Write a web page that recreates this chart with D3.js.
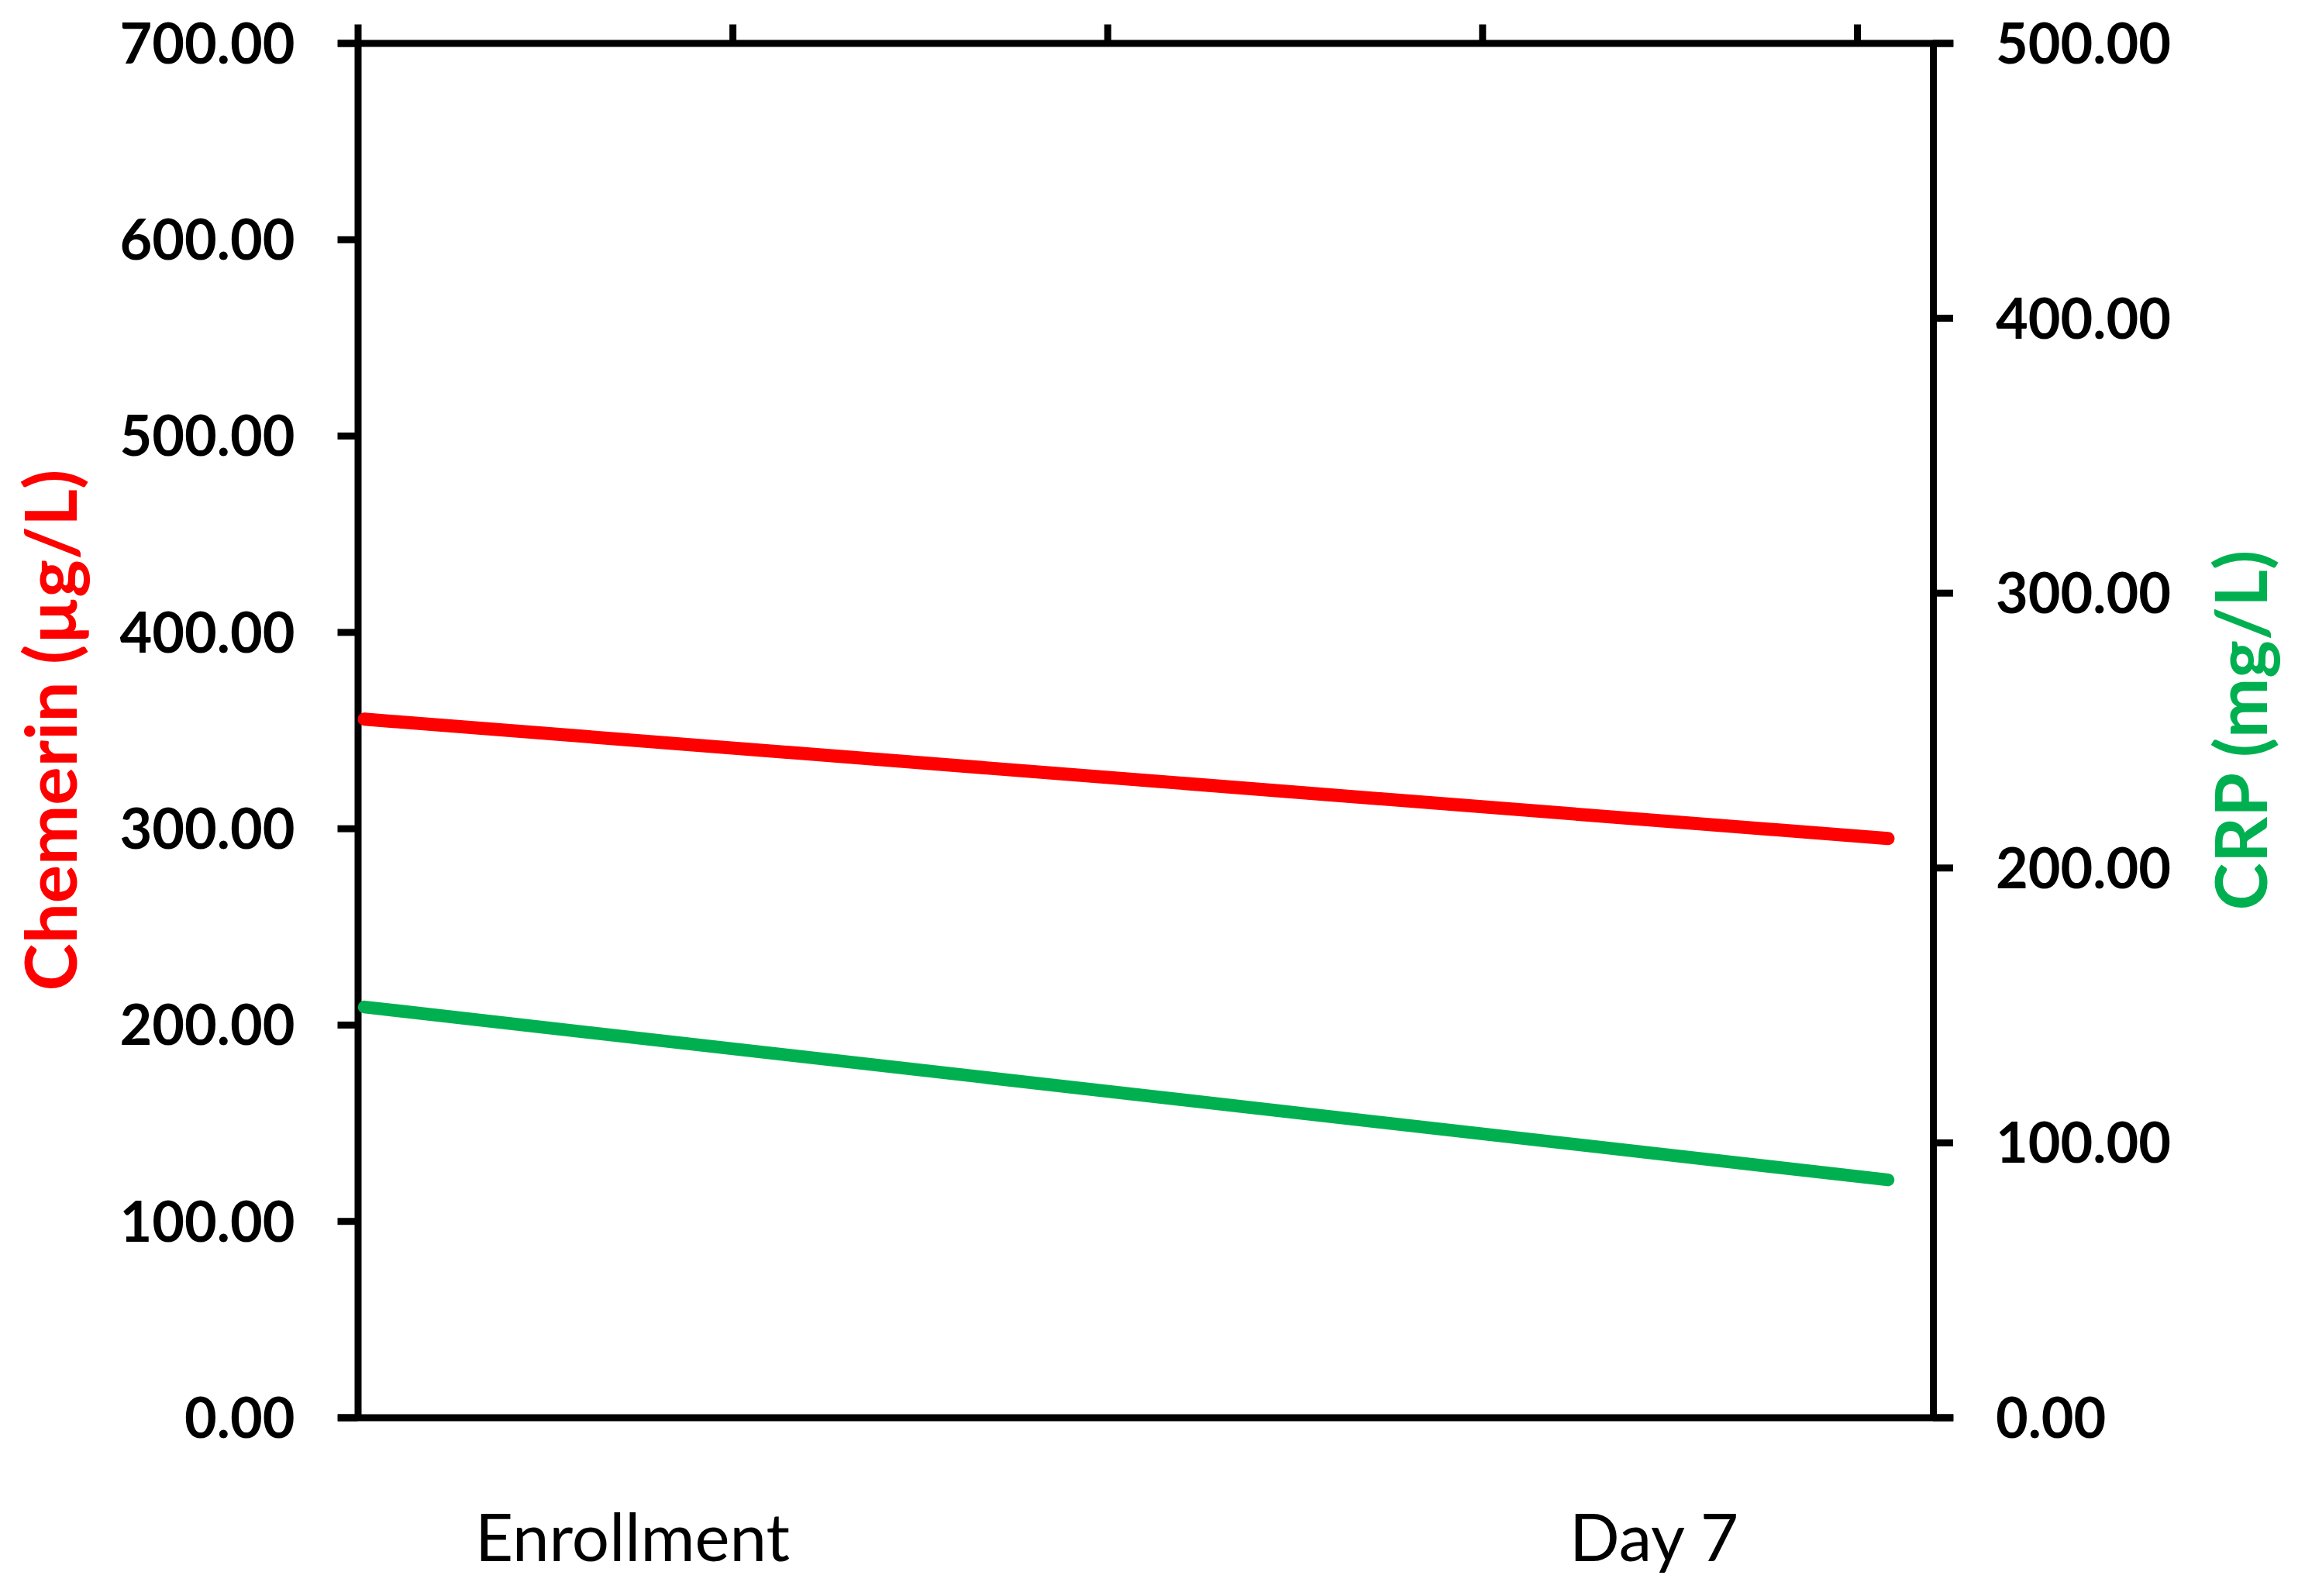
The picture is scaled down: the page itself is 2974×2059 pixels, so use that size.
<!DOCTYPE html>
<html>
<head>
<meta charset="utf-8">
<script src="https://cdn.jsdelivr.net/npm/d3@7"></script>
<style>
  html, body { margin: 0; padding: 0; background: #fff; }
  svg { display: block; }
</style>
</head>
<body>
<svg id="chart" width="2974" height="2059"></svg>
<script>
// ---- data ----
const categories = ["Enrollment", "Day 7"];
const chemerin = [355.6, 294.8];   // µg/L, left axis
const crp = [149.3, 86.4];         // mg/L, right axis
const leftTicks = [0, 100, 200, 300, 400, 500, 600, 700];
const rightTicks = [0, 100, 200, 300, 400, 500];
const topTicks = [0, 1, 2, 3, 4];
const leftTitle = "Chemerin (µg/L)";
const rightTitle = "CRP (mg/L)";

// ---- layout ----
const W = 2974, H = 2059;
const plotL = 461.5, plotR = 2494, plotT = 55.5, plotB = 1828.5;
const tickLen = 26;
const axisW = 9;
const fontFam = "Lato, 'Open Sans', sans-serif";

const svg = d3.select("#chart");
svg.append("rect").attr("width", W).attr("height", H).attr("fill", "#fff");

const x = d3.scalePoint().domain(categories).range([470, 2436]);
const xLabel = d3.scalePoint().domain(categories).range([816, 2134]);
const yL = d3.scaleLinear().domain([0, 700]).range([plotB, plotT]);
const yR = d3.scaleLinear().domain([0, 500]).range([plotB, plotT]);
const xTop = d3.scaleLinear().domain([0, 4]).range([plotL, 2396]);
const xFrame = d3.scaleLinear().domain([0, 1]).range([plotL - tickLen, plotR + tickLen]);

function styleAxis(g) {
  g.selectAll(".domain").attr("stroke", "#000").attr("stroke-width", axisW).attr("stroke-linecap", "butt");
  g.selectAll(".tick line").attr("stroke", "#000").attr("stroke-width", axisW);
  g.selectAll("text").attr("font-family", fontFam).attr("font-weight", "bold")
    .attr("font-size", 72).attr("fill", "#000");
}

// bottom frame line (no ticks)
svg.append("g").attr("transform", `translate(0,${plotB})`)
  .call(d3.axisBottom(xFrame).tickValues([]).tickSizeOuter(0))
  .call(styleAxis);

// top axis with upward ticks, no labels
svg.append("g").attr("transform", `translate(0,${plotT})`)
  .call(d3.axisTop(xTop).tickValues(topTicks).tickFormat("").tickSize(24).tickSizeOuter(0))
  .call(styleAxis)
  .call(g => g.select(".domain").remove());
svg.append("g").attr("transform", `translate(0,${plotT})`)
  .call(d3.axisTop(xFrame).tickValues([]).tickSizeOuter(0))
  .call(styleAxis);

// left axis
const gL = svg.append("g").attr("transform", `translate(${plotL},0)`)
  .call(d3.axisLeft(yL).tickValues(leftTicks).tickFormat(d3.format(".2f"))
    .tickSize(tickLen).tickSizeOuter(0).tickPadding(55))
  .call(styleAxis);
gL.selectAll(".tick text").attr("dy", "0.36em");

// right axis
const gR = svg.append("g").attr("transform", `translate(${plotR},0)`)
  .call(d3.axisRight(yR).tickValues(rightTicks).tickFormat(d3.format(".2f"))
    .tickSize(tickLen).tickSizeOuter(0).tickPadding(55))
  .call(styleAxis);
gR.selectAll(".tick text").attr("dy", "0.36em");

// lines
const lineL = d3.line().x((d, i) => x(categories[i])).y(d => yL(d));
const lineR = d3.line().x((d, i) => x(categories[i])).y(d => yR(d));
svg.append("path").datum(chemerin).attr("d", lineL)
  .attr("fill", "none").attr("stroke", "#FF0000").attr("stroke-width", 17).attr("stroke-linecap", "round");
svg.append("path").datum(crp).attr("d", lineR)
  .attr("fill", "none").attr("stroke", "#00B050").attr("stroke-width", 16.5).attr("stroke-linecap", "round");

// category labels
const catText = svg.append("g").selectAll("text").data(categories).join("text")
  .attr("x", d => xLabel(d)).attr("y", 2014)
  .attr("text-anchor", "middle")
  .attr("font-family", fontFam).attr("font-size", 100).attr("fill", "#000")
  .text(d => d);
// fit font-size to reference width of "Enrollment"
{
  const n = catText.filter(d => d === categories[0]).node();
  const len = n.getComputedTextLength();
  catText.attr("font-size", 100 * 406 / len);
}

// axis titles
const tL = svg.append("text")
  .attr("transform", `translate(99,942) rotate(-90)`)
  .attr("text-anchor", "middle")
  .attr("font-family", fontFam).attr("font-weight", "bold").attr("font-size", 100)
  .attr("fill", "#FF0000").text(leftTitle);
const tR = svg.append("text")
  .attr("transform", `translate(2925,942) rotate(-90)`)
  .attr("text-anchor", "middle")
  .attr("font-family", fontFam).attr("font-weight", "bold").attr("font-size", 100)
  .attr("fill", "#00B050").text(rightTitle);
{
  const len = tL.node().getComputedTextLength();
  const fs = 100 * 673 / len;
  tL.attr("font-size", fs);
  tR.attr("font-size", fs);
}
</script>
</body>
</html>
